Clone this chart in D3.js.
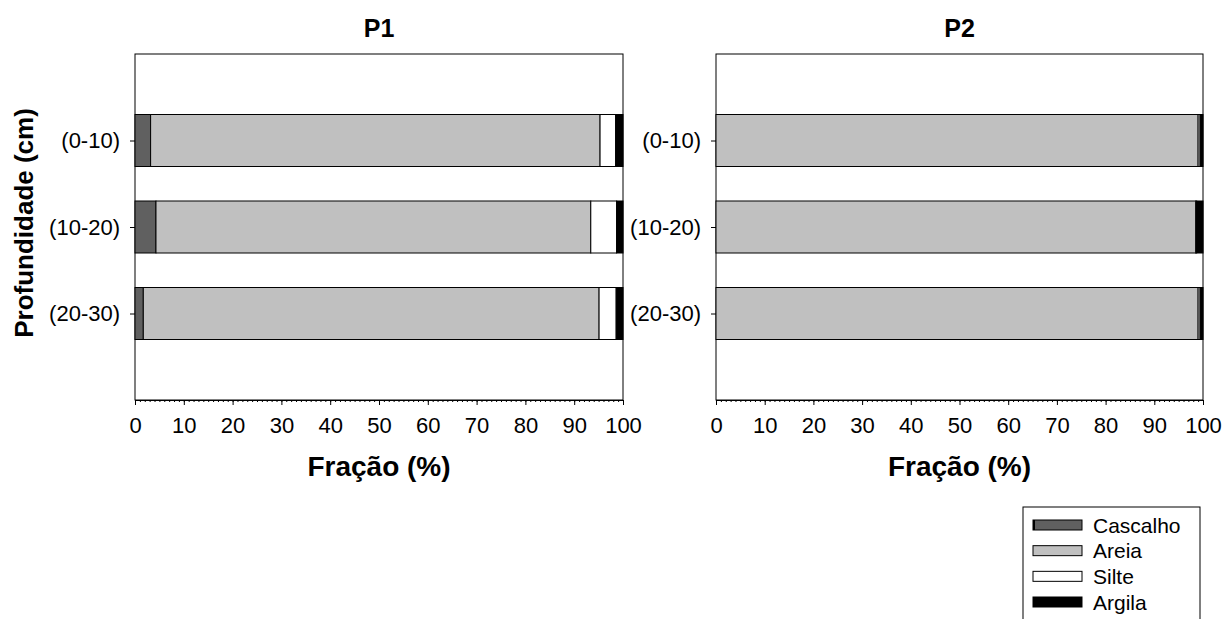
<!DOCTYPE html>
<html>
<head>
<meta charset="utf-8">
<script src="https://cdn.jsdelivr.net/npm/d3@7"></script>
<style>
  body { margin: 0; background: #fff; }
  text { font-family: Arial, "Liberation Sans", sans-serif; }
</style>
</head>
<body>
<div id="container"></div>
<script>
/* DATA */
const depths = ["(0-10)", "(10-20)", "(20-30)"];
const fractions = ["Cascalho", "Areia", "Silte", "Argila"];
const xTicks = [0, 10, 20, 30, 40, 50, 60, 70, 80, 90, 100];

// percentages per depth, in order of fractions
const p1Cascalho = [3.2, 4.3, 1.7];
const p1Areia = [92.1, 89.1, 93.4];
const p1Silte = [3.2, 5.3, 3.5];
const p1Argila = [1.5, 1.3, 1.4];

const p2Cascalho = [0, 0, 0];
const p2Areia = [99.0, 98.5, 99.0];
const p2Silte = [0.4, 0.2, 0.4];
const p2Argila = [0.6, 1.3, 0.6];

const colors = { Cascalho: "#606060", Areia: "#c0c0c0", Silte: "#ffffff", Argila: "#000000" };

/* LAYOUT */
const width = 1223, height = 619;
const plotTop = 54, plotBottom = 400;
const panels = [
  { title: "P1", left: 135, right: 623, series: [p1Cascalho, p1Areia, p1Silte, p1Argila] },
  { title: "P2", left: 716, right: 1203, series: [p2Cascalho, p2Areia, p2Silte, p2Argila] }
];

const svg = d3.select("#container")
  .append("svg")
  .attr("width", width)
  .attr("height", height);

// categories sit at 1,2,3 of a 0..4 span
const yScale = d3.scaleLinear()
  .domain([0, 4])
  .range([plotTop, plotBottom]);
const barH = 52;

panels.forEach(p => {
  const xScale = d3.scaleLinear()
    .domain([0, 100])
    .range([p.left, p.right]);

  const g = svg.append("g");

  // plot frame
  g.append("rect")
    .attr("x", p.left)
    .attr("y", plotTop)
    .attr("width", p.right - p.left)
    .attr("height", plotBottom - plotTop)
    .attr("fill", "#fff")
    .attr("stroke", "#000")
    .attr("stroke-width", 1);

  // stacked rows
  const rows = depths.map((d, i) => {
    let acc = 0;
    return fractions.map((f, k) => {
      const v = p.series[k][i];
      const seg = { depth: d, idx: i, fraction: f, x0: acc, x1: acc + v };
      acc += v;
      return seg;
    }).filter(s => s.x1 - s.x0 > 0);
  }).flat();

  g.selectAll("rect.bar")
    .data(rows)
    .join("rect")
    .attr("class", "bar")
    .attr("x", d => xScale(d.x0))
    .attr("y", d => yScale(d.idx + 1) - barH / 2)
    .attr("width", d => xScale(d.x1) - xScale(d.x0))
    .attr("height", barH)
    .attr("fill", d => colors[d.fraction])
    .attr("stroke", "#000")
    .attr("stroke-width", 1);

  // x axis
  const xAxis = d3.axisBottom(xScale)
    .tickValues(xTicks)
    .tickSize(5)
    .tickSizeOuter(0);
  const ax = g.append("g")
    .attr("transform", `translate(0,${plotBottom})`)
    .call(xAxis);
  ax.select(".domain").attr("stroke", "#000");
  ax.selectAll("text")
    .attr("font-size", 22)
    .attr("fill", "#000")
    .attr("y", 17);

  // minor ticks
  g.append("g")
    .attr("transform", `translate(0,${plotBottom})`)
    .call(d3.axisBottom(xScale).tickValues(d3.range(0, 101, 1)).tickSize(2).tickFormat(""))
    .call(s => s.select(".domain").remove());

  // y axis
  const yAxis = d3.axisLeft(yScale)
    .tickValues([1, 2, 3])
    .tickFormat(v => depths[v - 1])
    .tickSize(5)
    .tickSizeOuter(0);
  const ay = g.append("g")
    .attr("transform", `translate(${p.left},0)`)
    .call(yAxis);
  ay.select(".domain").remove();
  ay.selectAll("text")
    .attr("font-size", 22)
    .attr("fill", "#000")
    .attr("x", -15);

  // titles
  g.append("text")
    .attr("x", (p.left + p.right) / 2)
    .attr("y", 37)
    .attr("text-anchor", "middle")
    .attr("font-size", 25)
    .attr("font-weight", "bold")
    .text(p.title);

  g.append("text")
    .attr("x", (p.left + p.right) / 2)
    .attr("y", 476)
    .attr("text-anchor", "middle")
    .attr("font-size", 28)
    .attr("font-weight", "bold")
    .text("Fração (%)");
});

// y title
svg.append("text")
  .attr("transform", `translate(33,223) rotate(-90)`)
  .attr("text-anchor", "middle")
  .attr("font-size", 26)
  .attr("font-weight", "bold")
  .text("Profundidade (cm)");

/* LEGEND */
const legend = svg.append("g");
legend.append("rect")
  .attr("x", 1023)
  .attr("y", 507)
  .attr("width", 177)
  .attr("height", 120)
  .attr("fill", "#fff")
  .attr("stroke", "#000");

const legY = d3.scalePoint()
  .domain(fractions)
  .range([525, 602]);

const items = legend.selectAll("g.item")
  .data(fractions)
  .join("g")
  .attr("class", "item")
  .attr("transform", d => `translate(0,${legY(d)})`);

items.append("rect")
  .attr("x", 1033)
  .attr("y", -5)
  .attr("width", 49)
  .attr("height", 10)
  .attr("fill", d => colors[d])
  .attr("stroke", "#000")
  .attr("stroke-width", 1);

items.filter(d => d === "Cascalho")
  .append("rect")
  .attr("x", 1033)
  .attr("y", -5)
  .attr("width", 2)
  .attr("height", 10)
  .attr("fill", "#000");

items.append("text")
  .attr("x", 1093)
  .attr("y", 0)
  .attr("dy", "0.36em")
  .attr("font-size", 21)
  .text(d => d);
</script>
</body>
</html>
